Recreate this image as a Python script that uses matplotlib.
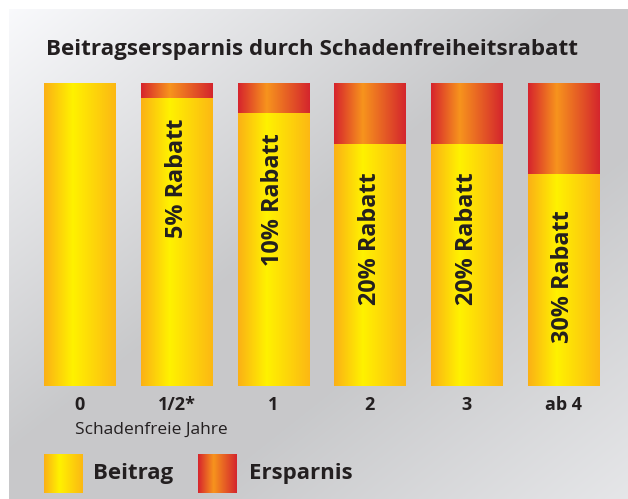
import numpy as np
import matplotlib
matplotlib.use("Agg")
import matplotlib.pyplot as plt
from matplotlib.colors import LinearSegmentedColormap

# ---- data ----
categories = ["0", "1/2*", "1", "2", "3", "ab 4"]
ersparnis = [0, 5, 10, 20, 20, 30]          # % discount (top red part)
beitrag = [100 - e for e in ersparnis]       # remaining premium (yellow part)
bar_labels = ["", "5% Rabatt", "10% Rabatt", "20% Rabatt", "20% Rabatt", "30% Rabatt"]
title = "Beitragsersparnis durch Schadenfreiheitsrabatt"
xlabel = "Schadenfreie Jahre"
legend_labels = ["Beitrag", "Ersparnis"]

FONT = ["Open Sans", "DejaVu Sans"]
TXT = "#231f20"

W, H = 628, 499
fig = plt.figure(figsize=(W / 100, H / 100), dpi=100)
fig.patch.set_facecolor("white")

# ---- background gradient panel ----
bg = fig.add_axes([0, 0, 1, 1], zorder=0)
bg.set_xlim(0, W); bg.set_ylim(H, 0); bg.axis("off")
xx, yy = np.meshgrid(np.linspace(0, 1, 300), np.linspace(0, 1, 240))
u = (xx + yy) / 2
v = np.interp(u, [0, 0.45, 0.65, 1.0], [0.975, 0.785, 0.785, 0.9])
img = np.dstack([v, v * 1.003, v * 1.013]).clip(0, 1)
bg.imshow(img, extent=[9, W, H, 9], aspect="auto", interpolation="bilinear")

yellow_cmap = LinearSegmentedColormap.from_list(
    "y", [(0, "#fbb016"), (0.4, "#fff200"), (1.0, "#fcb814")])
red_cmap = LinearSegmentedColormap.from_list(
    "r", [(0, "#d6232d"), (0.4, "#f7941d"), (1.0, "#d4252d")])
grad = np.linspace(0, 1, 256).reshape(1, -1)

# ---- bar axes ----
ax = fig.add_axes([31.6 / W, (H - 386) / H, 580 / W, 303 / H], zorder=1)
ax.set_xlim(-0.5, len(categories) - 0.5)
ax.set_ylim(0, 100)
ax.axis("off")
x = np.arange(len(categories))
bw = 0.735
b1 = ax.bar(x, beitrag, width=bw, color="none", edgecolor="none")
b2 = ax.bar(x, ersparnis, bottom=beitrag, width=bw, color="none", edgecolor="none")
for bars, cmap in ((b1, yellow_cmap), (b2, red_cmap)):
    for r in bars:
        if r.get_height() <= 0:
            continue
        x0, y0 = r.get_x(), r.get_y()
        im = ax.imshow(grad, cmap=cmap, extent=[x0, x0 + r.get_width(), y0, y0 + r.get_height()],
                       aspect="auto", interpolation="bilinear", zorder=2)
        im.set_clip_path(r)
ax.set_xlim(-0.5, len(categories) - 0.5)
ax.set_ylim(0, 100)

# rotated labels inside bars
label_pos = [0, 68.5, 61.4, 48.5, 48.5, 36]
for i, lab in enumerate(bar_labels):
    if lab:
        ax.text(x[i], label_pos[i], lab, rotation=90, ha="center", va="center",
                fontsize=16.8, fontweight="bold", color=TXT, family=FONT, zorder=3)

# category labels
for i, c in enumerate(categories):
    ax.text(x[i], -6.3, c, ha="center", va="center", fontsize=13,
            fontweight="bold", color=TXT, family=FONT)
fig.text(151 / W, 1 - 430 / H, xlabel, ha="center", va="center", fontsize=12.5,
         color=TXT, family=FONT)

# title
fig.text(312 / W, 1 - 50 / H, title, ha="center", va="center", fontsize=16.1,
         fontweight="bold", color=TXT, family=FONT)

# legend swatches
for (lx, cmap, lab, tx) in ((44, yellow_cmap, legend_labels[0], 93),
                            (198, red_cmap, legend_labels[1], 249)):
    la = fig.add_axes([lx / W, 1 - 493 / H, 39 / W, 39 / H], zorder=2)
    la.imshow(grad, cmap=cmap, aspect="auto", extent=[0, 1, 0, 1], interpolation="bilinear")
    la.axis("off")
    fig.text(tx / W, 1 - 474 / H, lab, ha="left", va="center", fontsize=16,
             fontweight="bold", color=TXT, family=FONT)

fig.savefig("out.png", dpi=100)
